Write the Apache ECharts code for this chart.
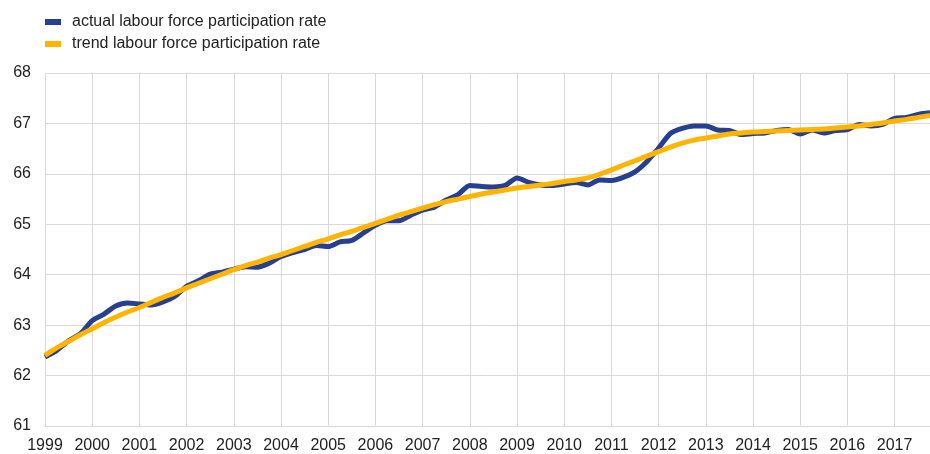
<!DOCTYPE html>
<html>
<head>
<meta charset="utf-8">
<script src="https://cdn.jsdelivr.net/npm/echarts@6/dist/echarts.min.js"></script>
<style>
    html, body { margin: 0; padding: 0; background: #fff; }
    #main { width: 930px; height: 454px; }
</style>
</head>
<body>
<div id="main"></div>
<script>
    'use strict';

    // years on the x axis, each split into quarters
    var years = ['1999', '2000', '2001', '2002', '2003', '2004', '2005', '2006', '2007',
        '2008', '2009', '2010', '2011', '2012', '2013', '2014', '2015', '2016', '2017'];

    var actualRate = [
        62.37, 62.50, 62.69, 62.83,
        63.09, 63.22, 63.38, 63.44,
        63.42, 63.40, 63.46, 63.57,
        63.77, 63.88, 64.01, 64.05,
        64.11, 64.16, 64.15, 64.23,
        64.36, 64.44, 64.50, 64.58,
        64.56, 64.65, 64.68, 64.83,
        64.98, 65.07, 65.07, 65.18,
        65.28, 65.34, 65.48, 65.59,
        65.77, 65.75, 65.74, 65.77,
        65.92, 65.83, 65.78, 65.77,
        65.80, 65.83, 65.78, 65.88,
        65.87, 65.93, 66.04, 66.24,
        66.51, 66.80, 66.90, 66.95,
        66.95, 66.87, 66.86, 66.78,
        66.80, 66.81, 66.86, 66.88,
        66.79, 66.87, 66.81, 66.86,
        66.88, 66.98, 66.95, 66.98,
        67.10, 67.12, 67.18, 67.21
    ];

    var trendRate = [
        62.40, 62.55, 62.68, 62.81,
        62.93, 63.05, 63.16, 63.26,
        63.35, 63.45, 63.55, 63.64,
        63.74, 63.83, 63.92, 64.01,
        64.10, 64.18, 64.25, 64.33,
        64.40, 64.48, 64.56, 64.64,
        64.71, 64.79, 64.86, 64.94,
        65.02, 65.10, 65.18, 65.25,
        65.32, 65.39, 65.45, 65.50,
        65.55, 65.60, 65.64, 65.68,
        65.72, 65.75, 65.78, 65.81,
        65.85, 65.88, 65.92, 65.99,
        66.08, 66.17, 66.26, 66.35,
        66.44, 66.53, 66.61, 66.67,
        66.71, 66.75, 66.79, 66.81,
        66.83, 66.84, 66.85, 66.86,
        66.87, 66.88, 66.89, 66.91,
        66.93, 66.95, 66.98, 67.01,
        67.05, 67.08, 67.12, 67.16
    ];

    var yTicks = [61, 62, 63, 64, 65, 66, 67, 68];

    // quarter categories, label only on the first quarter of each year
    var quarters = [];
    years.forEach(function (y) {
        for (var q = 1; q <= 4; q++) {
            quarters.push(y + ' Q' + q);
        }
    });

    var blue = '#263f91';
    var yellow = '#ffb400';
    var gridColor = '#d9d9d9';
    var textColor = '#222222';
    var font = 'Liberation Sans, Arial, sans-serif';

    var chart = echarts.init(document.getElementById('main'), null, {renderer: 'canvas'});

    var option = {
        animation: false,
        backgroundColor: '#ffffff',
        textStyle: {fontFamily: font},
        legend: {
            orient: 'vertical',
            left: 40,
            top: 9,
            itemGap: 6,
            itemWidth: 16,
            itemHeight: 6,
            icon: 'rect',
            textStyle: {fontSize: 16, color: textColor, fontFamily: font, padding: [0, 0, 0, 6]},
            data: [
                {name: 'actual labour force participation rate', itemStyle: {color: blue}},
                {name: 'trend labour force participation rate', itemStyle: {color: yellow}}
            ]
        },
        grid: {
            left: 45,
            right: -5,
            top: 73,
            bottom: 26,
            containLabel: false
        },
        xAxis: {
            type: 'category',
            data: quarters,
            boundaryGap: false,
            axisLine: {show: true, lineStyle: {color: gridColor, width: 1}},
            axisTick: {show: false},
            axisLabel: {
                interval: 3,
                margin: 12,
                fontSize: 16,
                color: textColor,
                fontFamily: font,
                formatter: function (v) { return v.slice(0, 4); }
            },
            splitLine: {show: true, interval: 3, lineStyle: {color: gridColor, width: 1}}
        },
        yAxis: {
            type: 'value',
            min: yTicks[0],
            max: yTicks[yTicks.length - 1],
            interval: 1,
            axisLine: {show: false},
            axisTick: {show: false},
            axisLabel: {
                margin: 14,
                fontSize: 16,
                color: textColor,
                fontFamily: font
            },
            splitLine: {show: true, lineStyle: {color: gridColor, width: 1}}
        },
        series: [
            {
                name: 'actual labour force participation rate',
                type: 'line',
                data: actualRate,
                showSymbol: false,
                smooth: 0.25,
                lineStyle: {color: blue, width: 5},
                itemStyle: {color: blue},
                z: 2
            },
            {
                name: 'trend labour force participation rate',
                type: 'line',
                data: trendRate,
                showSymbol: false,
                smooth: true,
                lineStyle: {color: yellow, width: 5},
                itemStyle: {color: yellow},
                z: 3
            }
        ]
    };

    chart.setOption(option);
</script>
</body>
</html>
